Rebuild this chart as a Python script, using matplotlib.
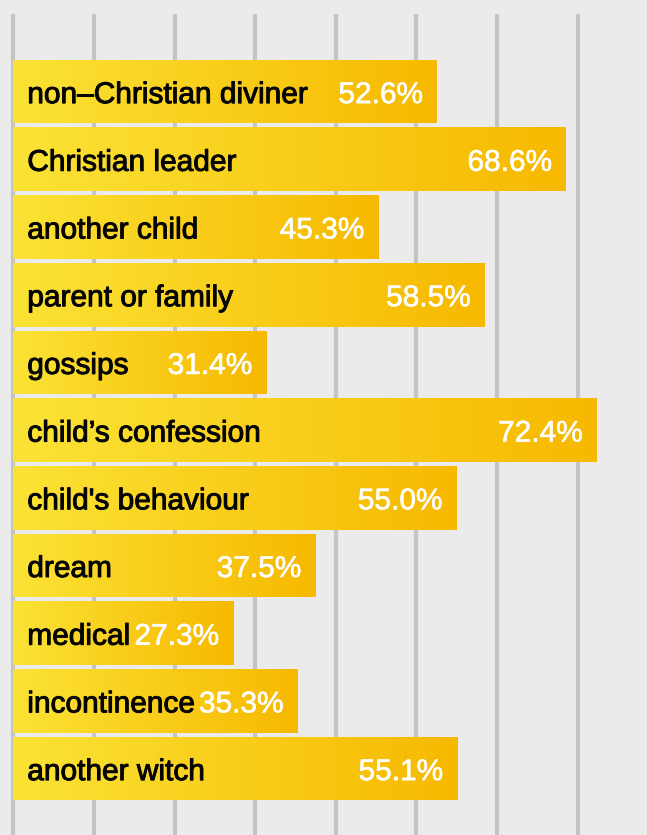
import numpy as np
import matplotlib
matplotlib.use("Agg")
import matplotlib.pyplot as plt
import matplotlib.patheffects as pe
from matplotlib.colors import LinearSegmentedColormap

# Sources of witchcraft accusations (share of cases, %)
categories = [
    "non\u2013Christian diviner",
    "Christian leader",
    "another child",
    "parent or family",
    "gossips",
    "child\u2019s confession",
    "child's behaviour",
    "dream",
    "medical",
    "incontinence",
    "another witch",
]
values = [52.6, 68.6, 45.3, 58.5, 31.4, 72.4, 55.0, 37.5, 27.3, 35.3, 55.1]
value_labels = [f"{v:.1f}%" for v in values]
grid_ticks = [0, 10, 20, 30, 40, 50, 60, 70]

BG = "#ebebeb"
GRID = "#c4c4c4"
bar_cmap = LinearSegmentedColormap.from_list("yellow_amber", ["#fbe335", "#f7b900"])

W, H, DPI = 647, 835, 100
fig = plt.figure(figsize=(W / DPI, H / DPI), dpi=DPI, facecolor=BG)

# axes cover the full width; vertical rules start a little below the top edge
top_px = 14
ax = fig.add_axes([0, 0, 1, (H - top_px) / H])
ax.set_facecolor(BG)

px_per_unit = 8.06
x0_px = 13.3
xmin = -x0_px / px_per_unit
xmax = (W - x0_px) / px_per_unit

pitch_px = 67.7
first_center_px = 91.6
ytop = (top_px - first_center_px) / pitch_px
ybot = (H - first_center_px) / pitch_px

bar_h = 0.94
ypos = np.arange(len(categories))
bars = ax.barh(ypos, values, height=bar_h, left=0, color="none", edgecolor="none", zorder=2)

gradient = np.linspace(0, 1, 256).reshape(1, -1)
for rect, y, v in zip(bars, ypos, values):
    im = ax.imshow(gradient, cmap=bar_cmap, aspect="auto",
                   extent=[0, v, y + bar_h / 2, y - bar_h / 2],
                   interpolation="bilinear", zorder=2)
    im.set_clip_path(rect)

font = ["Liberation Sans", "DejaVu Sans"]
fs = 21.5
base_off = 11.5 / pitch_px
lab_x = 14.0 / px_per_unit
val_pad = 14 / px_per_unit
dark = "#050505"
for y, name, v, vl in zip(ypos, categories, values, value_labels):
    ax.text(lab_x, y + base_off, name, ha="left", va="baseline",
            fontsize=fs, color=dark, family=font, zorder=3,
            path_effects=[pe.withStroke(linewidth=0.7, foreground=dark)])
    ax.text(v - val_pad, y + base_off, vl, ha="right", va="baseline",
            fontsize=fs, color="white", family=font, zorder=3,
            path_effects=[pe.withStroke(linewidth=0.4, foreground="white")])

ax.set_xlim(xmin, xmax)
ax.set_ylim(ybot, ytop)
ax.set_xticks(grid_ticks)
ax.set_yticks([])
ax.grid(axis="x", color=GRID, linewidth=3.0, zorder=0)
ax.set_axisbelow(True)
ax.tick_params(axis="x", length=0, labelbottom=False)
for s in ax.spines.values():
    s.set_visible(False)

fig.savefig("out.png", dpi=DPI, facecolor=BG)
